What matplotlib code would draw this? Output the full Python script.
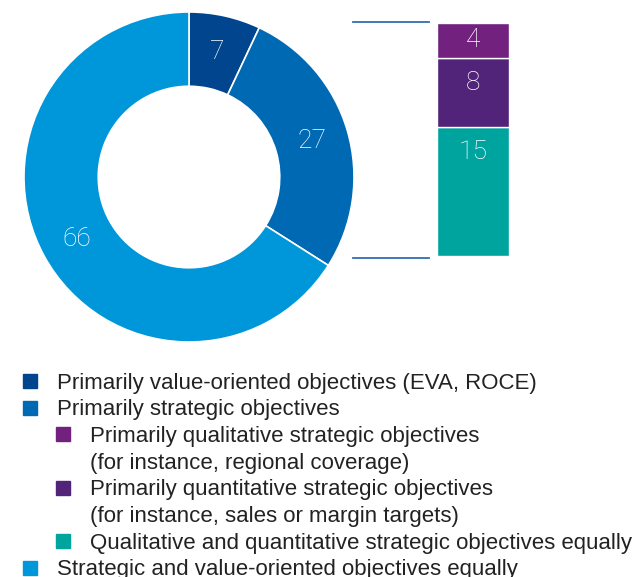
import matplotlib.pyplot as plt
from matplotlib.patches import Rectangle
from matplotlib.lines import Line2D

# donut data
donut_values = [7, 27, 66]
donut_colors = ['#00458E', '#0069B4', '#0096DA']

# breakdown of "primarily strategic objectives" (bottom -> top)
bar_values = [15, 8, 4]
bar_colors = ['#00A49F', '#512479', '#72217F']

legend_labels = [
    ['Primarily value-oriented objectives (EVA, ROCE)'],
    ['Primarily strategic objectives'],
    ['Primarily qualitative strategic objectives', '(for instance, regional coverage)'],
    ['Primarily quantitative strategic objectives', '(for instance, sales or margin targets)'],
    ['Qualitative and quantitative strategic objectives equally'],
    ['Strategic and value-oriented objectives equally'],
]
legend_colors = ['#00458E', '#0069B4', '#72217F', '#512479', '#00A49F', '#0096DA']
legend_level = [0, 0, 1, 1, 1, 0]

W, H = 635, 577
fig = plt.figure(figsize=(W / 100, H / 100), dpi=100)

num_font = dict(family=['Roboto', 'DejaVu Sans'], weight='light', color='white', fontsize=19)

# donut
ax = fig.add_axes([24 / W, 1 - 342 / H, 330 / W, 330 / H])
wedges, _, autotexts = ax.pie(donut_values, colors=donut_colors, startangle=90, counterclock=False,
                              radius=1, autopct=lambda p: f'{p:.0f}', pctdistance=0.775,
                              wedgeprops=dict(width=0.45, edgecolor='white', linewidth=1.2))
for t in autotexts:
    t.set(**num_font)
ax.set_xlim(-1, 1)
ax.set_ylim(-1, 1)
ax.set_aspect('equal')
ax.axis('off')

# stacked bar
bx = fig.add_axes([437 / W, 1 - 256 / H, 72 / W, 233 / H])
bottom = 0
for v, c in zip(bar_values, bar_colors):
    bx.bar(0, v, bottom=bottom, width=1, color=c, edgecolor='white', linewidth=1)
    bx.text(0, bottom + v - min(v / 2, 2.9), str(v), ha='center', va='center', **num_font)
    bottom += v
bx.set_xlim(-0.5, 0.5)
bx.set_ylim(0, sum(bar_values))
bx.axis('off')

# connector lines
for y in (22, 258):
    fig.add_artist(Line2D([353 / W, 429 / W], [1 - y / H, 1 - y / H],
                          color='#2F6DB5', linewidth=1.3, transform=fig.transFigure))

# legend
y = 382
for lines, c, lvl in zip(legend_labels, legend_colors, legend_level):
    sx = 23 + lvl * 33
    fig.add_artist(Rectangle((sx / W, 1 - (y + 6) / H), 14 / W, 14 / H,
                             color=c, transform=fig.transFigure))
    for line in lines:
        fig.text((sx + 34) / W, 1 - (y + 1) / H, line, ha='left', va='center', fontsize=16,
                 family='Liberation Sans', color='#222222')
        y += 26.7

fig.savefig('out.png', dpi=100)
